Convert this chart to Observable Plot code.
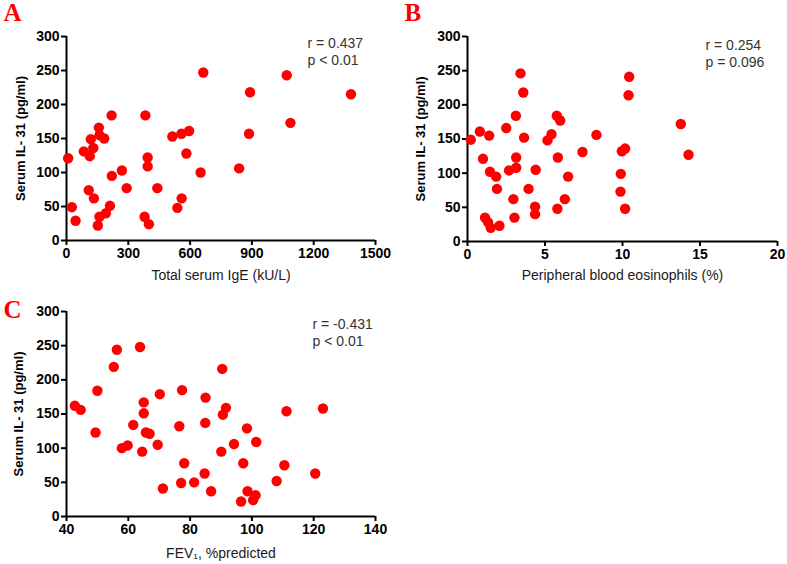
<!DOCTYPE html>
<html>
<head>
<meta charset="utf-8">
<script src="https://cdn.jsdelivr.net/npm/d3@7"></script>
<script src="https://cdn.jsdelivr.net/npm/@observablehq/plot@0.6"></script>
<style>
  html, body { margin: 0; padding: 0; background: #fff; }
  #wrap { position: relative; width: 787px; height: 564px; overflow: hidden; background: #fff; }
  #wrap > svg { position: absolute; }
</style>
</head>
<body>
<div id="wrap"></div>
<script>
// Panel A: total serum IgE vs serum IL-31
const igeA   = [8,26,44,84,113,118,130,108,133,157,160,183,219,220,152,160,191,211,269,292,383,394,394,379,400,441,514,538,559,558,595,582,651,664,891,1069,1381,886,1087,838];
const il31A  = [121,49,29,131,124,149,136,74,62,166,155,150,184,95,22,35,40,51,103,77,184,122,109,35,24,77,153,48,62,157,161,128,100,247,218,243,215,157,173,106];
// Panel B: peripheral blood eosinophils vs serum IL-31
const eosB   = [0.21,0.8,1.4,1.0,1.45,1.85,1.9,1.13,1.33,1.5,2.06,2.5,2.68,3.14,3.14,3.12,3.42,3.6,3.65,2.96,3.03,3.94,4.36,4.36,4.4,5.16,5.42,5.76,5.98,5.83,5.8,6.28,6.49,7.42,8.32,10.43,10.39,13.76,14.26,9.96,10.17,9.89,9.87,10.17];
const il31B  = [149,161,155,121,102,95,77,35,28,20,23,166,104,108,123,184,246,218,152,62,35,77,51,40,105,148,157,184,177,123,48,62,95,131,156,241,214,172,127,132,136,99,73,48];
// Panel C: FEV1 %predicted vs serum IL-31
const fevC   = [42.7,44.6,49.4,50.0,55.3,56.3,63.8,57.9,59.8,61.6,64.5,65.0,65.0,65.7,66.9,69.5,70.2,71.2,76.5,77.4,78.1,77.1,81.3,90.4,85.0,91.6,90.6,84.9,111.2,123.0,98.4,94.2,101.4,90.1,97.2,84.7,110.5,120.5,86.8,98.6,101.2,96.5,100.4,108.0];
const il31C  = [162,156,123,184,219,244,248,100,104,134,95,167,151,123,121,105,179,41,132,185,78,49,50,216,174,159,149,137,154,158,129,106,109,95,78,63,75,63,37,37,31,22,24,52];

const yTicks   = [0,50,100,150,200,250,300];
const xTicksA  = [0,300,600,900,1200,1500];
const xTicksB  = [0,5,10,15,20];
const xTicksC  = [40,60,80,100,120,140];
const yLabel   = "Serum IL- 31 (pg/ml)";
const xLabels  = ["Total serum IgE (kU/L)", "Peripheral blood eosinophils (%)", "FEV\u2081, %predicted"];
const letters  = ["A", "B", "C"];
const statsR   = ["r = 0.437", "r = 0.254", "r = -0.431"];
const statsP   = ["p < 0.01", "p = 0.096", "p < 0.01"];

const FONT = "'Liberation Sans', Arial, Helvetica, sans-serif";

function panel(o) {
  const data = o.xs.map((x, i) => ({x, y: o.ys[i]}));
  const xd = [o.xTicks[0], o.xTicks[o.xTicks.length - 1]];
  const svg = Plot.plot({
    width: o.width, height: o.height,
    marginLeft: o.ml, marginRight: o.mr, marginTop: o.mt, marginBottom: o.mb,
    style: {fontFamily: FONT, fontSize: "14px", fontWeight: "bold", background: "transparent", overflow: "visible", color: "#000"},
    x: {domain: xd},
    y: {domain: [0, 300]},
    marks: [
      Plot.axisX({ticks: o.xTicks, tickSize: 5, tickPadding: 3, tickFormat: "d", label: null, strokeWidth: 2, fontSize: 14, fontWeight: "bold", fill: "#000"}),
      Plot.axisY({ticks: yTicks, tickSize: 5, tickPadding: 2, tickFormat: "d", label: null, strokeWidth: 2, fontSize: 14, fontWeight: "bold", fill: "#000"}),
      Plot.ruleX([xd[0]], {y1: 0, y2: 300, stroke: "#000", strokeWidth: 2}),
      Plot.ruleY([0], {x1: xd[0], x2: xd[1], stroke: "#000", strokeWidth: 2}),
      Plot.dot(data, {x: "x", y: "y", r: 5.2, fill: "#ff0000", stroke: "none"}),
      Plot.text([o.xLabel], {frameAnchor: "bottom", textAnchor: "middle", dy: o.xLabelDy, lineAnchor: "middle", fontSize: 14, fontWeight: "normal", fill: "#1a1a1a"}),
      Plot.text([yLabel], {frameAnchor: "left", textAnchor: "middle", dx: o.yLabelDx, rotate: -90, lineAnchor: "middle", fontSize: 13, fontWeight: "bold", fill: "#000"}),
      Plot.text([o.r + "\n" + o.p], {frameAnchor: "top-right", textAnchor: "start", lineAnchor: "top", dx: o.statDx, dy: o.statDy, lineHeight: 1.2, fontSize: 14, fontWeight: "normal", fill: "#333"}),
      Plot.text([o.letter], {frameAnchor: "top-left", textAnchor: "start", lineAnchor: "bottom", dx: o.letterDx, dy: o.letterDy, fontSize: 25, fontWeight: "bold", fontFamily: "'Liberation Serif', 'Times New Roman', serif", fill: "#ff0000"})
    ]
  });
  svg.style.left = o.left + "px";
  svg.style.top = o.top + "px";
  document.getElementById("wrap").appendChild(svg);
}

panel({xs: igeA, ys: il31A, xTicks: xTicksA, xLabel: xLabels[0], r: statsR[0], p: statsP[0], letter: letters[0],
  left: 0, top: 0, width: 393, height: 290, ml: 66, mr: 18, mt: 36, mb: 50,
  xLabelDy: 35, yLabelDx: -46, statDx: -68, statDy: 0, letterDx: -63, letterDy: -16});

panel({xs: eosB, ys: il31B, xTicks: xTicksB, xLabel: xLabels[1], r: statsR[1], p: statsP[1], letter: letters[1],
  left: 400, top: 0, width: 387, height: 290, ml: 67, mr: 10, mt: 36, mb: 49,
  xLabelDy: 34, yLabelDx: -47, statDx: -72, statDy: 2, letterDx: -63, letterDy: -16});

panel({xs: fevC, ys: il31C, xTicks: xTicksC, xLabel: xLabels[2], r: statsR[2], p: statsP[2], letter: letters[2],
  left: 0, top: 290, width: 393, height: 274, ml: 66, mr: 18, mt: 21, mb: 48,
  xLabelDy: 37, yLabelDx: -48, statDx: -63, statDy: 6, letterDx: -63, letterDy: 6});
</script>
</body>
</html>
